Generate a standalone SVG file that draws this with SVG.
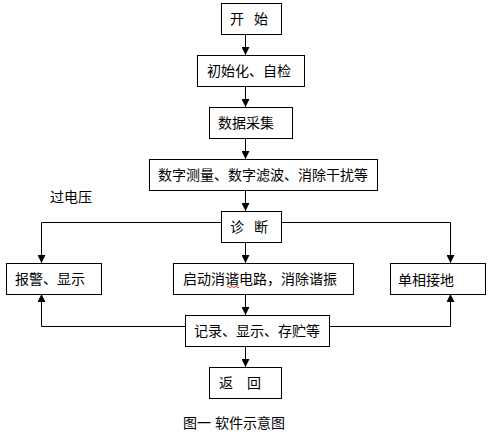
<svg xmlns="http://www.w3.org/2000/svg" width="493" height="440" viewBox="0 0 493 440">
<defs>
<style>
.box{fill:#fff;stroke:#000;stroke-width:1}
.t{font-family:"Liberation Sans","Noto Sans CJK SC",sans-serif;font-size:14px;fill:#000;dominant-baseline:central}
.c{fill:none;stroke:#000;stroke-width:1}
</style>
<marker id="ah" viewBox="0 0 8 8" refX="8" refY="4" markerWidth="8" markerHeight="8" markerUnits="userSpaceOnUse" orient="auto">
<path d="M0,0 L8,4 L0,8 z" fill="#000"/>
</marker>
</defs>
<rect width="493" height="440" fill="#fff"/>
<g id="connectors">
<path class="c" d="M245.5,34 V55" marker-end="url(#ah)"/>
<path class="c" d="M245.5,86 V107" marker-end="url(#ah)"/>
<path class="c" d="M245.5,138 V159" marker-end="url(#ah)"/>
<path class="c" d="M245.5,190 V211" marker-end="url(#ah)"/>
<path class="c" d="M245.5,242 V263" marker-end="url(#ah)"/>
<path class="c" d="M245.5,294 V315" marker-end="url(#ah)"/>
<path class="c" d="M245.5,346 V367" marker-end="url(#ah)"/>
<path class="c" d="M221,222.5 H41.5 V263" marker-end="url(#ah)"/>
<path class="c" d="M282,222.5 H450.5 V263" marker-end="url(#ah)"/>
<path class="c" d="M185,326.5 H41.5 V294" marker-end="url(#ah)"/>
<path class="c" d="M330,326.5 H450.5 V294" marker-end="url(#ah)"/>
</g>
<g id="start"><rect class="box" x="221.5" y="3.5" width="60" height="31"/><text class="t" x="230" y="19" word-spacing="6">开 始</text></g>
<g id="init"><rect class="box" x="197.5" y="55.5" width="107" height="31"/><text class="t" x="207" y="71">初始化、自检</text></g>
<g id="acquire"><rect class="box" x="209.5" y="107.5" width="83" height="31"/><text class="t" x="218" y="123">数据采集</text></g>
<g id="measure"><rect class="box" x="149.5" y="159.5" width="228" height="31"/><text class="t" x="158" y="175">数字测量、数字滤波、消除干扰等</text></g>
<g id="overvoltage"><text class="t" x="50" y="197">过电压</text></g>
<g id="diagnose"><rect class="box" x="221.5" y="211.5" width="60" height="31"/><text class="t" x="230" y="227" word-spacing="6">诊 断</text></g>
<g id="alarm"><rect class="box" x="6.5" y="263.5" width="95" height="31"/><text class="t" x="15" y="279">报警、显示</text></g>
<g id="resonance"><rect class="box" x="173.5" y="263.5" width="180" height="31"/><text class="t" x="183" y="279">启动消谐电路，消除谐振</text>
<path d="M227,287 q1,-1.5 2,0 t2,0 t2,0 t2,0 t2,0 t2,0" fill="none" stroke="#e00000" stroke-width="0.8"/></g>
<g id="ground"><rect class="box" x="390.5" y="263.5" width="95" height="31"/><text class="t" x="398" y="280">单相接地</text></g>
<g id="record"><rect class="box" x="185.5" y="315.5" width="144" height="31"/><text class="t" x="194" y="331">记录、显示、存贮等</text></g>
<g id="return"><rect class="box" x="209.5" y="367.5" width="72" height="31"/><text class="t" x="219" y="383" word-spacing="10">返 回</text></g>
<g id="caption"><text class="t" x="183" y="423">图一 软件示意图</text></g>
</svg>
